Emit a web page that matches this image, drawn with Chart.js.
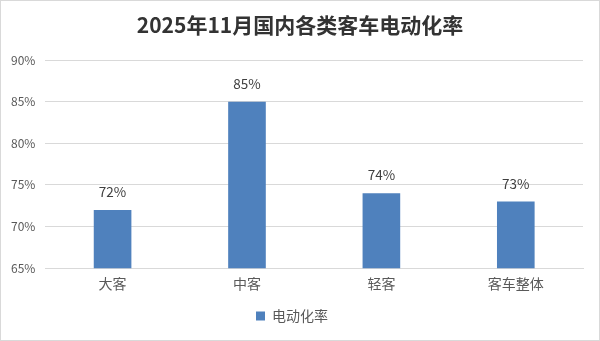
<!DOCTYPE html>
<html><head><meta charset="utf-8">
<script src="https://cdn.jsdelivr.net/npm/chart.js@4/dist/chart.umd.min.js"></script>
<style>html,body{margin:0;padding:0;background:#fff}#wrap{width:600px;height:341px;position:relative}</style>
</head><body><div id="wrap"><canvas id="c" width="600" height="341"></canvas></div>
<script>
const categories = ['大客', '中客', '轻客', '客车整体'];
const seriesName = '电动化率';
const values = [72, 85, 74, 73];
const yTicks = [65, 70, 75, 80, 85, 90];
const titleText = '2025年11月国内各类客车电动化率';

const FONT = '"Noto Sans CJK SC", "Noto Sans", sans-serif';

const borderPlugin = {
  id: 'border',
  afterDraw(chart) {
    const ctx = chart.ctx;
    ctx.save();
    ctx.strokeStyle = '#d9d9d9';
    ctx.lineWidth = 1;
    ctx.strokeRect(0.5, 0.5, chart.width - 1, chart.height - 1);
    ctx.restore();
  }
};
const titlePlugin = {
  id: 'offTitle',
  afterDraw(chart) {
    const ctx = chart.ctx;
    ctx.save();
    ctx.font = 'bold 21px ' + FONT;
    ctx.fillStyle = '#333333';
    ctx.textAlign = 'center';
    ctx.textBaseline = 'middle';
    ctx.fillText(titleText, chart.width / 2, 25);
    ctx.restore();
  }
};
const labelPlugin = {
  id: 'valLabels',
  afterDatasetsDraw(chart) {
    const ctx = chart.ctx;
    const meta = chart.getDatasetMeta(0);
    ctx.save();
    ctx.font = '13.5px ' + FONT;
    ctx.fillStyle = '#404040';
    ctx.textAlign = 'center';
    ctx.textBaseline = 'middle';
    meta.data.forEach((bar, i) => {
      ctx.fillText(values[i] + '%', bar.x, bar.y - 18);
    });
    ctx.restore();
  }
};

new Chart(document.getElementById('c'), {
  type: 'bar',
  data: {
    labels: categories,
    datasets: [{
      label: seriesName,
      data: values,
      backgroundColor: '#4f81bd',
      borderWidth: 0,
      categoryPercentage: 1,
      barPercentage: 0.28
    }]
  },
  options: {
    responsive: false,
    animation: false,
    layout: { padding: { top: 60, left: 1, right: 17, bottom: 8 } },
    plugins: {
      title: { display: false },
      legend: {
        position: 'bottom',
        labels: {
          color: '#595959',
          font: { family: FONT, size: 14 },
          boxWidth: 9,
          boxHeight: 9,
          padding: 10
        }
      },
      tooltip: { enabled: false }
    },
    scales: {
      x: {
        grid: { display: false, drawTicks: false },
        border: { color: '#d9d9d9' },
        ticks: { color: '#595959', font: { family: FONT, size: 14 }, padding: 7 }
      },
      y: {
        min: 65, max: 90,
        afterBuildTicks(axis) { axis.ticks = yTicks.map(v => ({ value: v })); },
        grid: { color: '#d9d9d9', drawTicks: false },
        border: { display: false },
        ticks: { color: '#595959', font: { family: FONT, size: 12 }, padding: 10,
          callback: v => v + '%' }
      }
    }
  },
  plugins: [borderPlugin, titlePlugin, labelPlugin]
});
</script></body></html>
